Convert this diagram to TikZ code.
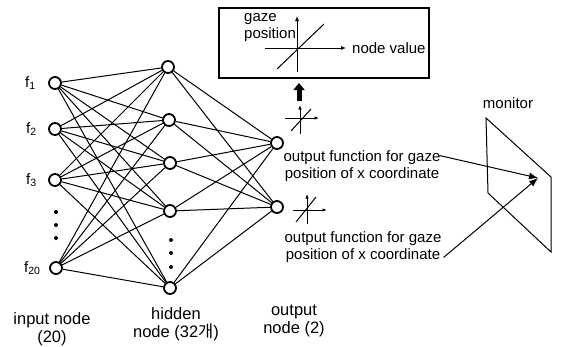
\documentclass[tikz,border=0pt]{standalone}
\usepackage{fontspec}
\setmainfont{Liberation Sans}
\newfontfamily\krfont{Noto Sans CJK KR}
\usetikzlibrary{arrows.meta}
\begin{document}
\begin{tikzpicture}[x=1pt,y=-1pt,
  neuron/.style={circle,draw,line width=1.8pt,minimum size=12pt,inner sep=0pt},
  conn/.style={line width=1pt},
  lbl/.style={font=\fontsize{15}{16.5}\selectfont,inner sep=0pt},
  blbl/.style={font=\fontsize{16.5}{18}\selectfont,inner sep=0pt},
  axis/.style={line width=1pt,-{Latex[length=5pt,width=4pt]}},
  saxis/.style={line width=1pt,-{Latex[length=4.5pt,width=3.5pt]}},
  dot/.style={circle,fill,inner sep=0pt,minimum size=4pt}]
\useasboundingbox (0,0) rectangle (564,346);
% input layer
\node[neuron] (i1) at (55,83) {};
\node[neuron] (i2) at (55,129) {};
\node[neuron] (i3) at (55,180) {};
\node[neuron] (i4) at (56,268) {};
\node[lbl,anchor=west] (fl1) at (25,83) {f\textsubscript{1}};
\node[lbl,anchor=west] (fl2) at (26,129) {f\textsubscript{2}};
\node[lbl,anchor=west] (fl3) at (26,180) {f\textsubscript{3}};
\node[lbl,anchor=west] (fl4) at (24,268) {f\textsubscript{20}};
\node[dot] (di1) at (56,212) {};
\node[dot] (di2) at (56,225) {};
\node[dot] (di3) at (56,238) {};
% hidden layer
\node[neuron] (h1) at (168,67) {};
\node[neuron] (h2) at (169,120) {};
\node[neuron] (h3) at (170,163) {};
\node[neuron] (h4) at (170,211) {};
\node[neuron] (h5) at (170,288) {};
\node[dot] (dh1) at (171,240) {};
\node[dot] (dh2) at (171,253) {};
\node[dot] (dh3) at (171,267) {};
% output layer
\node[neuron] (o1) at (277,143) {};
\node[neuron] (o2) at (277,207) {};
% connections
\foreach \i in {i1,i2,i3,i4}
  \foreach \h in {h1,h2,h3,h4,h5}
    \draw[conn] (\i) -- (\h);
\foreach \h in {h1,h2,h3,h4,h5}
  \foreach \o in {o1,o2}
    \draw[conn] (\h) -- (\o);
% top box
\node[draw,line width=2.5pt,minimum width=210pt,minimum height=70pt,inner sep=0pt] (box) at (324,43) {};
\draw[axis] (297,72) -- (297,16);
\draw[axis] (265,48) -- (346,48);
\draw[line width=1pt] (277,69) -- (324,24);
\node[lbl,anchor=west] (gz1) at (244,19) {gaze};
\node[lbl,anchor=west] (gz2) at (244,35) {position};
\node[lbl,anchor=west] (nv) at (352,48) {node value};
% fat arrow
\draw[line width=5pt,-{Triangle[length=7pt,width=11pt]}] (299,101) -- (299,83);
% small plot 1
\draw[saxis] (300,134) -- (300,105);
\draw[saxis] (285,118) -- (319,118);
\draw[line width=1pt] (291,131) -- (311,109);
% small plot 2
\draw[saxis] (307,224) -- (307,194);
\draw[saxis] (293,210) -- (327,210);
\draw[line width=1pt] (296,222) -- (316,197);
% output texts
\node[lbl,align=center] (t1) at (362,166) {output function for gaze\\position of x coordinate};
\node[lbl,align=center] (t2) at (363,247) {output function for gaze\\position of x coordinate};
% monitor
\draw[line width=1pt] (486,118) -- (551,177) -- (551,252) -- (488,193) -- cycle;
\node[lbl] (mon) at (508,103) {monitor};
\coordinate (tgt) at (538,178);
\draw[line width=1pt,-{Latex[length=9pt,width=7pt]}] (t1.north east) ++(-1,5) coordinate (a1) -- (tgt);
\draw[line width=1pt,-{Latex[length=9pt,width=7pt]}] (t2.south east) ++(2,-5) coordinate (a2) -- (tgt);
% bottom labels
\node[blbl,align=center] (lin) at (52,329) {input node\\(20)};
\node[blbl,align=center] (lhid) at (176,324) {hidden\\node (32{\krfont 개})};
\node[blbl,align=center] (lout) at (294,321) {output\\node (2)};
\end{tikzpicture}
\end{document}
